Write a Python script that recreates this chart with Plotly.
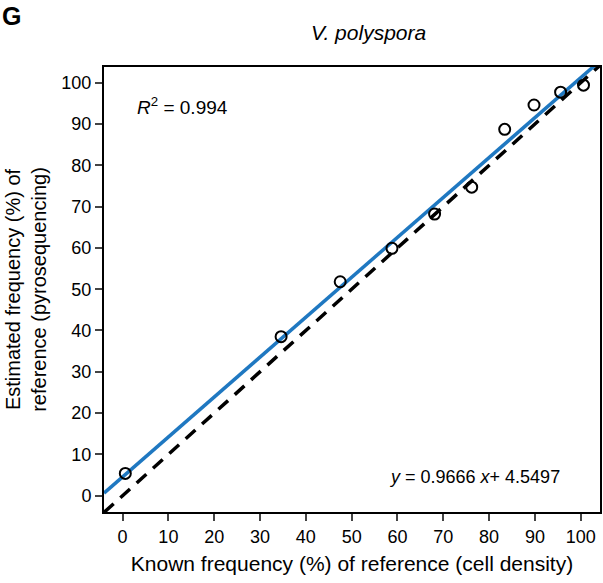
import plotly.graph_objects as go

known = [0.6, 34.6, 47.5, 58.8, 68.1, 76.2, 83.4, 89.8, 95.6, 100.6]
estimated = [5.4, 38.5, 51.8, 59.9, 68.2, 74.7, 88.7, 94.6, 97.7, 99.4]
slope = 0.9666
intercept = 4.5497
x_range = [-4.05, 104.2]
y_range = [-3.95, 103.8]
ticks = list(range(0, 101, 10))

font = "Liberation Sans, Arial, sans-serif"
PL, PR, PT, PB = 104, 602, 67, 512
PW, PH = PR - PL, PB - PT

def px(x):
    return (x - PL) / PW

def py(y):
    return (PB - y) / PH

fig = go.Figure()
fig.add_trace(go.Scatter(x=x_range, y=x_range, mode="lines",
                         line=dict(color="black", width=3.5, dash="13px,9px"),
                         hoverinfo="skip", showlegend=False))
fig.add_trace(go.Scatter(x=x_range, y=[slope * v + intercept for v in x_range], mode="lines",
                         line=dict(color="#1f78c1", width=3.5),
                         hoverinfo="skip", showlegend=False))
fig.add_trace(go.Scatter(x=known, y=estimated, mode="markers",
                         marker=dict(symbol="circle-open", size=11, color="black",
                                     line=dict(width=2, color="black")),
                         showlegend=False))

fig.update_layout(
    width=603, height=583,
    margin=dict(l=PL, r=603 - PR, t=PT, b=583 - PB),
    paper_bgcolor="white", plot_bgcolor="white",
    font=dict(family=font, size=18, color="black"),
)
fig.update_xaxes(range=x_range, tickvals=ticks, ticks="outside", ticklen=7, tickwidth=2,
                 showline=True, linewidth=2, linecolor="black", mirror=True,
                 showgrid=False, zeroline=False, tickfont=dict(size=18),
                 title=dict(text="Known frequency (%) of reference (cell density)",
                            font=dict(size=21), standoff=11))
fig.update_yaxes(range=y_range, tickvals=ticks, ticks="outside", ticklen=7, tickwidth=2,
                 showline=True, linewidth=2, linecolor="black", mirror=True,
                 showgrid=False, zeroline=False, tickfont=dict(size=18),
                 title=dict(text="Estimated frequency (%) of<br>reference (pyrosequencing)",
                            font=dict(size=20), standoff=9))

fig.add_annotation(text="<i>V. polyspora</i>", xref="paper", yref="paper",
                   x=px(370), y=py(32), xanchor="center", yanchor="middle",
                   showarrow=False, font=dict(size=21))
fig.add_annotation(text="<i>R</i><sup>2</sup> = 0.994", xref="paper", yref="paper",
                   x=px(135), y=py(106), xanchor="left", yanchor="middle",
                   showarrow=False, font=dict(size=19))
fig.add_annotation(text="<i>y</i> = 0.9666 <i>x</i>+ 4.5497", xref="paper", yref="paper",
                   x=px(564), y=py(477), xanchor="right", yanchor="middle",
                   showarrow=False, font=dict(size=18))
fig.add_annotation(text="<b>G</b>", xref="paper", yref="paper",
                   x=px(0), y=py(16), xanchor="left", yanchor="middle",
                   showarrow=False, font=dict(size=25))

fig.write_html("out.html")
